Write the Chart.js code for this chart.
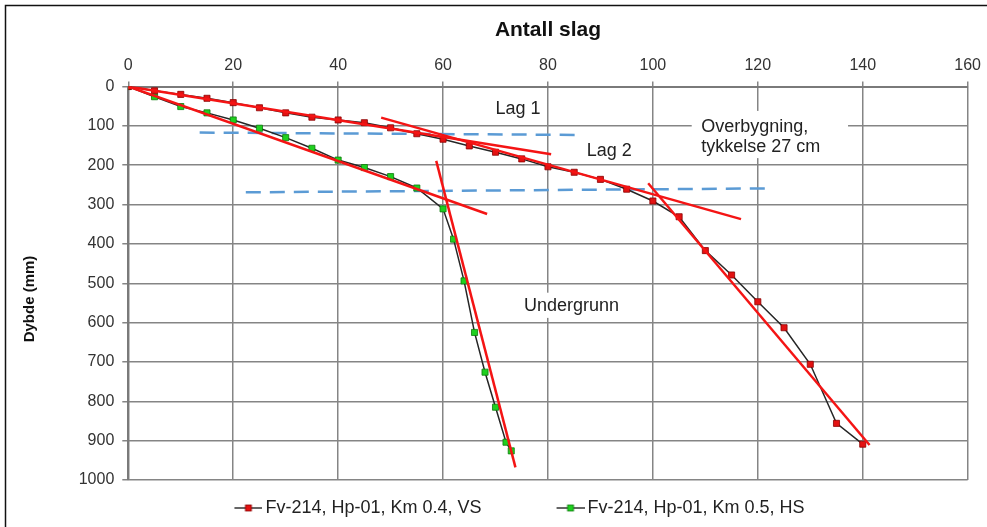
<!DOCTYPE html>
<html>
<head>
<meta charset="utf-8">
<title>Antall slag</title>
<script src="https://cdn.jsdelivr.net/npm/chart.js@4.4.1/dist/chart.umd.min.js"></script>
<style>
    html, body { margin: 0; padding: 0; background: #fff; }
    #wrap { position: relative; width: 987px; height: 527px; }
</style>
</head>
<body>
<div id="wrap"><canvas id="chart-area"></canvas></div>
<script>
'use strict';

// blows (x) against depth in mm (y)
var slagVS = [0, 5, 10, 15, 20, 25, 30, 35, 40, 45, 50, 55, 60, 65, 70, 75, 80, 85, 90, 95, 100, 105, 110, 115, 120, 125, 130, 135, 140];
var dybdeVS = [0, 11, 20, 30, 41, 54, 67, 78, 85, 92, 105, 120, 134, 151, 167, 184, 204, 218, 236, 261, 291, 331, 417, 479, 547, 613, 706, 856, 909];

var slagHS = [0, 5, 10, 15, 20, 25, 30, 35, 40, 45, 50, 55, 60, 62, 64, 66, 68, 70, 72, 73];
var dybdeHS = [0, 26, 51, 67, 85, 106, 130, 157, 187, 206, 229, 258, 311, 388, 494, 625, 726, 815, 904, 926];

// fitted lines per layer, [blows, depth] at each end
var trendVS1 = [[0, 0], [80.6, 172]];
var trendVS2 = [[48.2, 79], [116.8, 337]];
var trendVS3 = [[99.1, 246], [141.3, 911]];
var trendHS1 = [[0, 0], [68.4, 324]];
var trendHS2 = [[58.7, 189], [73.8, 968]];

// layer boundaries (dashed)
var grenseLag1 = [[13.6, 117], [85.4, 123]];
var grenseLag2 = [[22.4, 269], [121.4, 259]];

var serieNavn = ['Fv-214, Hp-01, Km 0.4, VS', 'Fv-214, Hp-01, Km 0.5, HS'];

// text labels inside the plot: [blows, depth] anchor, optional white box
var merknader = [
    {lines: ['Lag 1'], x: 74.3, y: 57, align: 'center'},
    {lines: ['Lag 2'], x: 91.7, y: 164, align: 'center'},
    {lines: ['Overbygning,', 'tykkelse 27 cm'], x: 109.2, y: 102, align: 'left', step: 52.5,
        box: [107.4, 62, 137.2, 182]},
    {lines: ['Undergrunn'], x: 84.5, y: 557, align: 'center', box: [74, 524, 96.6, 588]}
];

Chart.defaults.font.family = "'Liberation Sans', Arial, sans-serif";

var toPoints = function(xs, ys) {
    return xs.map(function(x, i) {
        return {x: x, y: ys[i]};
    });
};
var pairPoints = function(pair) {
    return pair.map(function(p) {
        return {x: p[0], y: p[1]};
    });
};

// little line-with-square symbol for the legend, blank on the left for spacing
var legendMarker = function(fill, edge) {
    var c = document.createElement('canvas');
    c.width = 90;
    c.height = 12;
    var g = c.getContext('2d');
    g.strokeStyle = '#333';
    g.lineWidth = 1.5;
    g.beginPath();
    g.moveTo(62, 6);
    g.lineTo(90, 6);
    g.stroke();
    g.fillStyle = fill;
    g.fillRect(73, 3, 6, 6);
    g.strokeStyle = edge;
    g.lineWidth = 0.8;
    g.strokeRect(73, 3, 6, 6);
    return c;
};

var trendSet = function(pair) {
    return {
        data: pairPoints(pair),
        showLine: true,
        borderColor: '#f41414',
        borderWidth: 2.5,
        pointRadius: 0,
        order: 0
    };
};
var grenseSet = function(pair) {
    return {
        data: pairPoints(pair),
        showLine: true,
        borderColor: '#5b9bd5',
        borderWidth: 2.5,
        borderDash: [15, 9],
        pointRadius: 0,
        order: 2
    };
};

var plainNumber = function(value) {
    return String(value);
};

var pagePlugin = {
    id: 'pageDecor',
    beforeDraw: function(chart) {
        var ctx = chart.ctx;
        ctx.save();
        ctx.fillStyle = '#fff';
        ctx.fillRect(0, 0, chart.width, chart.height);
        ctx.strokeStyle = '#111';
        ctx.lineWidth = 1.5;
        ctx.beginPath();
        ctx.moveTo(5.5, chart.height);
        ctx.lineTo(5.5, 5.5);
        ctx.lineTo(chart.width, 5.5);
        ctx.stroke();
        ctx.restore();
    },
    beforeDatasetsDraw: function(chart) {
        var ctx = chart.ctx;
        var sx = chart.scales.x, sy = chart.scales.y;
        ctx.save();
        ctx.font = "18px 'Liberation Sans', Arial, sans-serif";
        ctx.textBaseline = 'middle';
        ctx.fillStyle = '#222';
        merknader.forEach(function(m) {
            if (m.box) {
                var x0 = sx.getPixelForValue(m.box[0]), y0 = sy.getPixelForValue(m.box[1]);
                var x1 = sx.getPixelForValue(m.box[2]), y1 = sy.getPixelForValue(m.box[3]);
                ctx.fillStyle = '#fff';
                ctx.fillRect(x0, y0, x1 - x0, y1 - y0);
                ctx.fillStyle = '#222';
            }
            ctx.textAlign = m.align;
            m.lines.forEach(function(line, i) {
                ctx.fillText(line, sx.getPixelForValue(m.x), sy.getPixelForValue(m.y + i * (m.step || 0)));
            });
        });
        ctx.restore();
    },
    afterDraw: function(chart) {
        // y axis title
        var ctx = chart.ctx;
        ctx.save();
        ctx.translate(30, 299);
        ctx.rotate(-Math.PI / 2);
        ctx.font = "bold 15px 'Liberation Sans', Arial, sans-serif";
        ctx.textAlign = 'center';
        ctx.textBaseline = 'middle';
        ctx.fillStyle = '#111';
        ctx.fillText('Dybde (mm)', 0, 0);
        ctx.restore();
    }
};

var config = {
    type: 'scatter',
    data: {
        datasets: [
            trendSet(trendVS1),
            trendSet(trendVS2),
            trendSet(trendVS3),
            trendSet(trendHS1),
            trendSet(trendHS2),
            {
                label: serieNavn[0],
                data: toPoints(slagVS, dybdeVS),
                showLine: true,
                borderColor: '#262626',
                borderWidth: 1.5,
                pointStyle: 'rect',
                pointRadius: 4.3,
                pointBackgroundColor: '#e31212',
                pointBorderColor: '#8a0000',
                pointBorderWidth: 0.8,
                order: 1,
                inLegend: true,
                marker: legendMarker('#e31212', '#8a0000')
            },
            {
                label: serieNavn[1],
                data: toPoints(slagHS, dybdeHS),
                showLine: true,
                borderColor: '#262626',
                borderWidth: 1.5,
                pointStyle: 'rect',
                pointRadius: 4.3,
                pointBackgroundColor: '#1fd01f',
                pointBorderColor: '#0d7a0d',
                pointBorderWidth: 0.8,
                order: 1,
                inLegend: true,
                marker: legendMarker('#1fd01f', '#0d7a0d')
            },
            grenseSet(grenseLag1),
            grenseSet(grenseLag2)
        ]
    },
    options: {
        responsive: true,
        maintainAspectRatio: false,
        animation: false,
        layout: {
            padding: {top: 8, left: 0, right: 4, bottom: 0}
        },
        plugins: {
            title: {
                display: true,
                text: 'Antall slag',
                fullSize: false,
                color: '#111',
                font: {size: 21, weight: 'bold'},
                padding: {top: 10, bottom: 4}
            },
            legend: {
                position: 'bottom',
                labels: {
                    usePointStyle: true,
                    pointStyleWidth: 78,
                    padding: 19,
                    color: '#222',
                    font: {size: 18},
                    generateLabels: function(chart) {
                        var items = Chart.defaults.plugins.legend.labels.generateLabels(chart);
                        return items.filter(function(item) {
                            return chart.data.datasets[item.datasetIndex].inLegend;
                        }).map(function(item) {
                            item.pointStyle = chart.data.datasets[item.datasetIndex].marker;
                            return item;
                        });
                    }
                }
            },
            tooltip: {enabled: false}
        },
        scales: {
            x: {
                type: 'linear',
                position: 'top',
                min: 0,
                max: 160,
                afterFit: function(scale) {
                    scale.height = 39.3;
                },
                ticks: {stepSize: 20, color: '#333', font: {size: 16}, padding: 6, callback: plainNumber},
                grid: {color: '#858585', lineWidth: 1.5, tickLength: 5},
                border: {color: '#7a7a7a', width: 2}
            },
            y: {
                type: 'linear',
                reverse: true,
                min: 0,
                max: 1000,
                afterFit: function(scale) {
                    scale.width = 128.3;
                },
                ticks: {stepSize: 100, color: '#333', font: {size: 16}, padding: 8, callback: plainNumber},
                grid: {color: '#858585', lineWidth: 1.5, tickLength: 6},
                border: {color: '#7a7a7a', width: 2}
            }
        }
    },
    plugins: [pagePlugin]
};

var ctx = document.getElementById('chart-area').getContext('2d');
window.slagChart = new Chart(ctx, config);
</script>
</body>
</html>
